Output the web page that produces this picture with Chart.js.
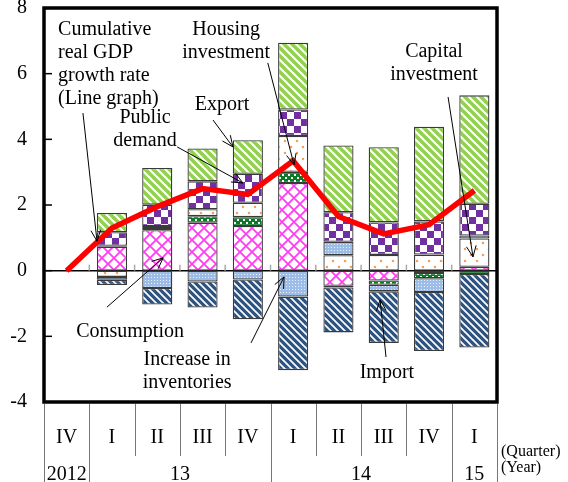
<!DOCTYPE html>
<html><head><meta charset="utf-8">
<script src="https://cdn.jsdelivr.net/npm/chart.js@4/dist/chart.umd.min.js"></script>
<style>html,body{margin:0;padding:0;background:#fff}#wrap{width:568px;height:482px}</style>
</head><body><div id="wrap"><canvas id="c" width="568" height="482"></canvas></div>
<script>
// ---- data ----
const categories = ['2012 IV','2013 I','2013 II','2013 III','2013 IV','2014 I','2014 II','2014 III','2014 IV','2015 I'];
const quarterLabels = ['IV','I','II','III','IV','I','II','III','IV','I'];
const yearLabels = ['2012','13','14','15'];
const yearSpans = [1,4,4,1];
const yTicks = [-4,-2,0,2,4,6,8];
const consumption = [null, 0.73, 1.23, 1.46, 1.36, 2.67, -0.46, -0.30, -0.07, 0.12];
const housing     = [null, 0.03, 0.07, 0.20, 0.27, 0.34, -0.05, -0.13, -0.16, -0.10];
const capital     = [null, -0.19, 0.06, 0.21, 0.44, 1.09, 0.47, 0.48, 0.49, 0.86];
const inventories = [null, -0.09, -0.53, -0.33, -0.27, -0.79, 0.41, -0.20, -0.42, 0.09];
const publicDemand= [null, 0.41, 0.65, 0.85, 0.88, 0.81, 0.90, 0.99, 1.01, 0.97];
const exportsC    = [null, 0.59, 1.12, 1.00, 1.02, 2.03, 2.03, 2.29, 2.88, 3.30];
const importsC    = [null, -0.16, -0.50, -0.79, -1.21, -2.24, -1.37, -1.57, -1.80, -2.24];
const gdpLine     = [0, 1.30, 1.95, 2.50, 2.32, 3.35, 1.65, 1.12, 1.40, 2.44];

// ---- patterns ----
function tile(w, h, draw){ const c=document.createElement('canvas'); c.width=w; c.height=h; const g=c.getContext('2d'); draw(g,w,h); return document.getElementById('c').getContext('2d').createPattern(c,'repeat'); }
function stripes(g,w,h,bg,fg,lw){ g.fillStyle=bg; g.fillRect(0,0,w,h); g.strokeStyle=fg; g.lineWidth=lw; for(let k=-1;k<=1;k++){ g.beginPath(); g.moveTo(k*w-1,-1); g.lineTo(k*w+w+1,h+1); g.stroke(); } }
const pConsumption = tile(12,12,(g,w,h)=>{ g.fillStyle='#fff'; g.fillRect(0,0,w,h); g.strokeStyle='#ff3cf0'; g.lineWidth=1.8; g.beginPath(); g.moveTo(0,0); g.lineTo(w,h); g.moveTo(0,h); g.lineTo(w,0); g.stroke(); });
const pHousing = tile(6,6,(g,w,h)=>{ g.fillStyle='#0b7a25'; g.fillRect(0,0,w,h); g.fillStyle='#fff'; g.fillRect(0,0,2,2); g.fillRect(3,3,2,2); });
const pCapital = tile(12,12,(g,w,h)=>{ g.fillStyle='#fff'; g.fillRect(0,0,w,h); g.fillStyle='#f5a05a'; g.beginPath(); g.arc(3,3,1.3,0,7); g.arc(9,9,1.3,0,7); g.fill(); });
const pInvent = tile(3,3,(g,w,h)=>{ g.fillStyle='#9dbde6'; g.fillRect(0,0,w,h); g.fillStyle='#e8f0fb'; g.fillRect(1,1,1,1); });
const pPublic = tile(14,14,(g,w,h)=>{ g.fillStyle='#fff'; g.fillRect(0,0,w,h); g.fillStyle='#7030a0'; g.fillRect(0,0,7,7); g.fillRect(7,7,7,7); });
const pExport = tile(8,8,(g,w,h)=>stripes(g,w,h,'#fff','#92d050',3.6));
const pImport = tile(7,7,(g,w,h)=>stripes(g,w,h,'#2c5382','#fff',1.7));

const font = 'Liberation Serif';
const barBase = { borderColor:'#3a3a3a', borderWidth:1.3, borderSkipped:false, barPercentage:0.665, categoryPercentage:1, stack:'s', order:1 };

// ---- annotations (positions in data space: category index, value) ----
const notes = [
  {lines:['Cumulative','real GDP','growth rate','(Line graph)'], i:-0.19, v:7.18, align:'left'},
  {lines:['Housing','investment'], i:3.52, v:7.18, align:'center'},
  {lines:['Export'], i:3.43, v:4.89, align:'center'},
  {lines:['Public','demand'], i:1.73, v:4.5, align:'center'},
  {lines:['Capital','investment'], i:8.11, v:6.51, align:'center'},
  {lines:['Consumption'], i:1.40, v:-2.02, align:'center'},
  {lines:['Increase in','inventories'], i:2.66, v:-2.87, align:'center'},
  {lines:['Import'], i:7.07, v:-3.27, align:'center'}
];
const arrows = [
  {from:[0.36,4.80], to:[0.67,0.90]},
  {from:[4.44,6.33], to:[5.02,3.22]},
  {from:[3.23,4.59], to:[3.67,3.77]},
  {from:[2.44,3.77], to:[3.89,2.67]},
  {from:[8.42,5.29], to:[8.97,0.42]},
  {from:[0.89,-1.11], to:[2.13,0.39]},
  {from:[4.07,-2.20], to:[4.80,-0.19]},
  {from:[7.05,-2.63], to:[6.92,-0.89]}
];

const decor = {
  id:'decor',
  beforeDatasetsDraw(chart){
    const {ctx, chartArea:a, scales:{x,y}} = chart;
    ctx.save();
    ctx.strokeStyle='#000'; ctx.lineWidth=1.5;
    ctx.beginPath(); ctx.moveTo(a.left, y.getPixelForValue(0)); ctx.lineTo(a.right, y.getPixelForValue(0)); ctx.stroke();
    ctx.strokeStyle='#aaa'; ctx.lineWidth=1.5;
    for(let k=1;k<categories.length;k++){ const bx=x.getPixelForValue(k-0.5); ctx.beginPath(); ctx.moveTo(bx,y.getPixelForValue(0)); ctx.lineTo(bx,y.getPixelForValue(0)-6); ctx.stroke(); }
    ctx.restore();
  },
  afterDraw(chart){
    const {ctx, chartArea:a, scales:{x,y}} = chart;
    ctx.save();
    ctx.strokeStyle='#000'; ctx.lineWidth=3.5;
    ctx.strokeRect(a.left, a.top, a.right-a.left, a.bottom-a.top);
    ctx.lineWidth=1.5;
    yTicks.forEach(v=>{ if(v===yTicks[0]||v===yTicks[yTicks.length-1]) return; const py=y.getPixelForValue(v); ctx.beginPath(); ctx.moveTo(a.left,py); ctx.lineTo(a.left+8,py); ctx.stroke(); });
    const H = chart.height;
    ctx.strokeStyle='#777'; ctx.lineWidth=1;
    const full = new Set([0]); let acc=0; yearSpans.forEach(s=>{acc+=s; full.add(acc);});
    for(let k=0;k<=categories.length;k++){
      const bx=Math.round(x.getPixelForValue(k-0.5))+0.5;
      ctx.beginPath(); ctx.moveTo(bx,a.bottom+2); ctx.lineTo(bx, full.has(k)?H:a.bottom+54); ctx.stroke();
    }
    ctx.fillStyle='#000'; ctx.font='20px "'+font+'"'; ctx.textAlign='center'; ctx.textBaseline='alphabetic';
    quarterLabels.forEach((q,k)=>ctx.fillText(q, x.getPixelForValue(k), a.bottom+41));
    let start=0;
    yearLabels.forEach((yl,k)=>{ const c=(x.getPixelForValue(start-0.5)+x.getPixelForValue(start+yearSpans[k]-0.5))/2; ctx.fillText(yl,c,a.bottom+78); start+=yearSpans[k]; });
    ctx.font='16px "'+font+'"'; ctx.textAlign='left';
    ctx.fillText('(Quarter)', a.right+4, a.bottom+54);
    ctx.fillText('(Year)', a.right+4, a.bottom+70);
    ctx.font='20px "'+font+'"';
    notes.forEach(n=>{ ctx.textAlign=n.align; n.lines.forEach((t,j)=>ctx.fillText(t, x.getPixelForValue(n.i), y.getPixelForValue(n.v)+j*23)); });
    ctx.strokeStyle='#000'; ctx.lineWidth=1;
    arrows.forEach(ar=>{
      const x0=x.getPixelForValue(ar.from[0]), y0=y.getPixelForValue(ar.from[1]);
      const x1=x.getPixelForValue(ar.to[0]), y1=y.getPixelForValue(ar.to[1]);
      const ang=Math.atan2(y1-y0,x1-x0), L=12, sp=0.42;
      ctx.beginPath(); ctx.moveTo(x0,y0); ctx.lineTo(x1,y1);
      ctx.moveTo(x1-L*Math.cos(ang-sp), y1-L*Math.sin(ang-sp)); ctx.lineTo(x1,y1);
      ctx.lineTo(x1-L*Math.cos(ang+sp), y1-L*Math.sin(ang+sp));
      ctx.stroke();
    });
    ctx.restore();
  }
};

new Chart(document.getElementById('c'), {
  type:'bar',
  data:{
    labels: categories,
    datasets:[
      Object.assign({label:'Consumption', data:consumption, backgroundColor:pConsumption}, barBase),
      Object.assign({label:'Housing investment', data:housing, backgroundColor:pHousing}, barBase),
      Object.assign({label:'Capital investment', data:capital, backgroundColor:pCapital}, barBase),
      Object.assign({label:'Increase in inventories', data:inventories, backgroundColor:pInvent}, barBase),
      Object.assign({label:'Public demand', data:publicDemand, backgroundColor:pPublic}, barBase),
      Object.assign({label:'Export', data:exportsC, backgroundColor:pExport}, barBase),
      Object.assign({label:'Import', data:importsC, backgroundColor:pImport}, barBase),
      {type:'line', label:'Cumulative real GDP growth rate', data:gdpLine, borderColor:'#ff0000', borderWidth:5.5, pointRadius:0, tension:0, fill:false, stack:'line', order:-1, borderJoinStyle:'miter'}
    ]
  },
  options:{
    responsive:false, animation:false, devicePixelRatio:1,
    layout:{padding:{top:8,right:71,bottom:80,left:0}},
    plugins:{legend:{display:false}, tooltip:{enabled:false}},
    scales:{
      x:{display:false, stacked:true, offset:true},
      y:{stacked:true, min:-4, max:8,
         afterFit(s){ s.width=44; s.paddingTop=0; s.paddingBottom=0; },
         afterBuildTicks(s){ s.ticks = yTicks.map(v=>({value:v})); },
         ticks:{font:{family:font,size:20}, color:'#000', padding:17},
         grid:{display:false, drawTicks:false, tickLength:0},
         border:{display:false}}
    }
  },
  plugins:[decor]
});
</script></body></html>
